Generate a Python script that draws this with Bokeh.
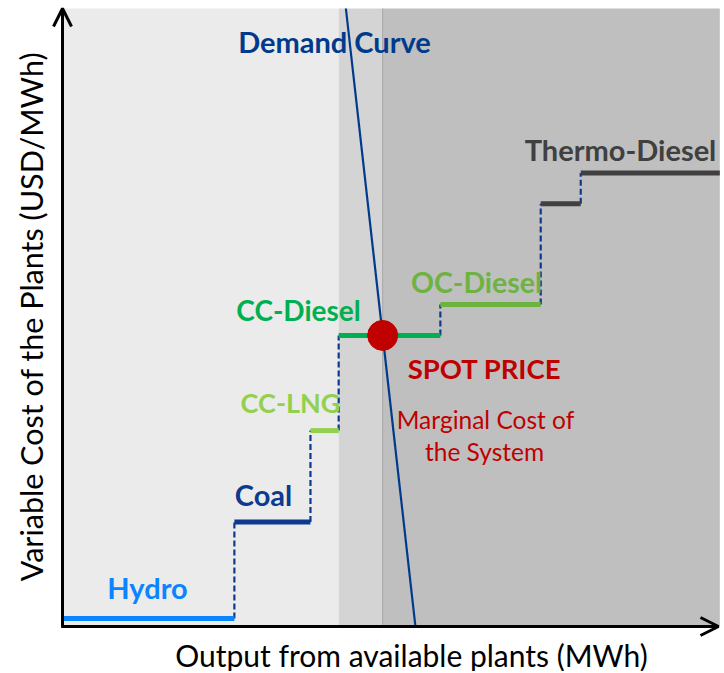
from bokeh.plotting import figure
from bokeh.models import Range1d, Arrow, OpenHead
from bokeh.embed import file_html
from bokeh.resources import INLINE
from bokeh.core.properties import value
import math

# ---------------- data ----------------
plants = ["Hydro", "Coal", "CC-LNG", "CC-Diesel", "OC-Diesel", "Thermo-Diesel 1", "Thermo-Diesel 2"]
cum_output = [26.2, 37.8, 42.1, 57.6, 72.9, 79.0, 100.2]      # cumulative available output
var_cost = [1.3, 16.9, 31.7, 47.1, 52.1, 68.4, 73.4]          # variable cost of each block
demand_output = [43.2, 53.8]
demand_cost = [100.0, 0.0]
axis_x_max = 100.0
axis_y_max = 100.0

# ---------------- style / layout ----------------
step_colors = ["#0a84ff", "#0b3a8e", "#92d050", "#00b050", "#6db33f", "#404040", "#404040"]
navy = "#0b3a8e"
red = "#c00000"
FONT = "Lato"

W, H = 722, 671
SX, SY = 6.56, 6.18          # px per data unit
OX, OY = 62, 626             # origin in figure px

p = figure(width=W, height=H, output_backend="svg", toolbar_location=None,
           x_range=Range1d(-OX / SX, (W - OX) / SX),
           y_range=Range1d((OY - H) / SY, OY / SY),
           x_axis_location=None, y_axis_location=None, min_border=0)
p.grid.visible = False
p.outline_line_color = None
p.background_fill_color = "white"

# spot price: intersection of demand curve with marginal block cost
marg = 3
slope = (demand_output[1] - demand_output[0]) / (demand_cost[1] - demand_cost[0])
spot_x = demand_output[0] + (var_cost[marg] - demand_cost[0]) * slope
spot_y = var_cost[marg]

starts = [0.0] + cum_output[:-1]

# shaded regions
p.quad(left=[0.0, starts[marg], spot_x], right=[starts[marg], spot_x, cum_output[-1]],
       bottom=0, top=axis_y_max, fill_color=["#ebebeb", "#d4d4d4", "#bfbfbf"], line_color=None)
p.segment(x0=[spot_x], y0=[0], x1=[spot_x], y1=[axis_y_max], line_color="#a6a6a6", line_width=1)

# dashed risers
p.segment(x0=cum_output[:-1], y0=var_cost[:-1], x1=cum_output[:-1], y1=var_cost[1:],
          line_color=navy, line_width=2.2, line_dash="6 3")

# steps
p.segment(x0=starts, y0=var_cost, x1=cum_output, y1=var_cost,
          line_color=step_colors, line_width=5)

# demand curve
p.line(demand_output, demand_cost, line_color="#003a8c", line_width=2.2)

# spot price point
p.scatter([spot_x], [spot_y], size=30, fill_color=red, line_color=red)

# axes with arrows
p.add_layout(Arrow(x_start=0, y_start=0, x_end=0, y_end=axis_y_max, line_width=3, line_color="black",
                   end=OpenHead(size=18, line_width=3, line_color="black")))
p.add_layout(Arrow(x_start=-0.2, y_start=0, x_end=axis_x_max, y_end=0, line_width=3, line_color="black",
                   end=OpenHead(size=18, line_width=3, line_color="black")))

def px(x, y):
    return (x - OX) / SX, (OY - y) / SY

def label(text, pos, color, size, bold=True, angle=0.0):
    x, y = px(*pos)
    p.text([x], [y], text=[text], text_font=value(FONT), text_font_size=f"{size}px",
           text_font_style="bold" if bold else "normal", text_color=color,
           text_align="center", text_baseline="middle", angle=angle)

label("Demand Curve", (334, 41), "#003a8c", 29)
label("Hydro", (147, 587), step_colors[0], 29)
label("Coal", (263, 494), step_colors[1], 29)
label("CC-LNG", (290, 402), step_colors[2], 27)
label("CC-Diesel", (298, 309), step_colors[3], 28)
label("OC-Diesel", (476, 281), step_colors[4], 28.5)
label("Thermo-Diesel", (620, 149), step_colors[5], 29)
label("SPOT PRICE", (484, 368), red, 27.5)
label("Marginal Cost of", (485, 419), red, 24.5, bold=False)
label("the System", (484, 451), red, 24.5, bold=False)
label("Output from available plants (MWh)", (411, 654), "black", 30, bold=False)
label("Variable Cost of the Plants (USD/MWh)", (30, 316), "black", 30.5, bold=False, angle=math.pi / 2)

open("out.html", "w").write(file_html(p, INLINE))
